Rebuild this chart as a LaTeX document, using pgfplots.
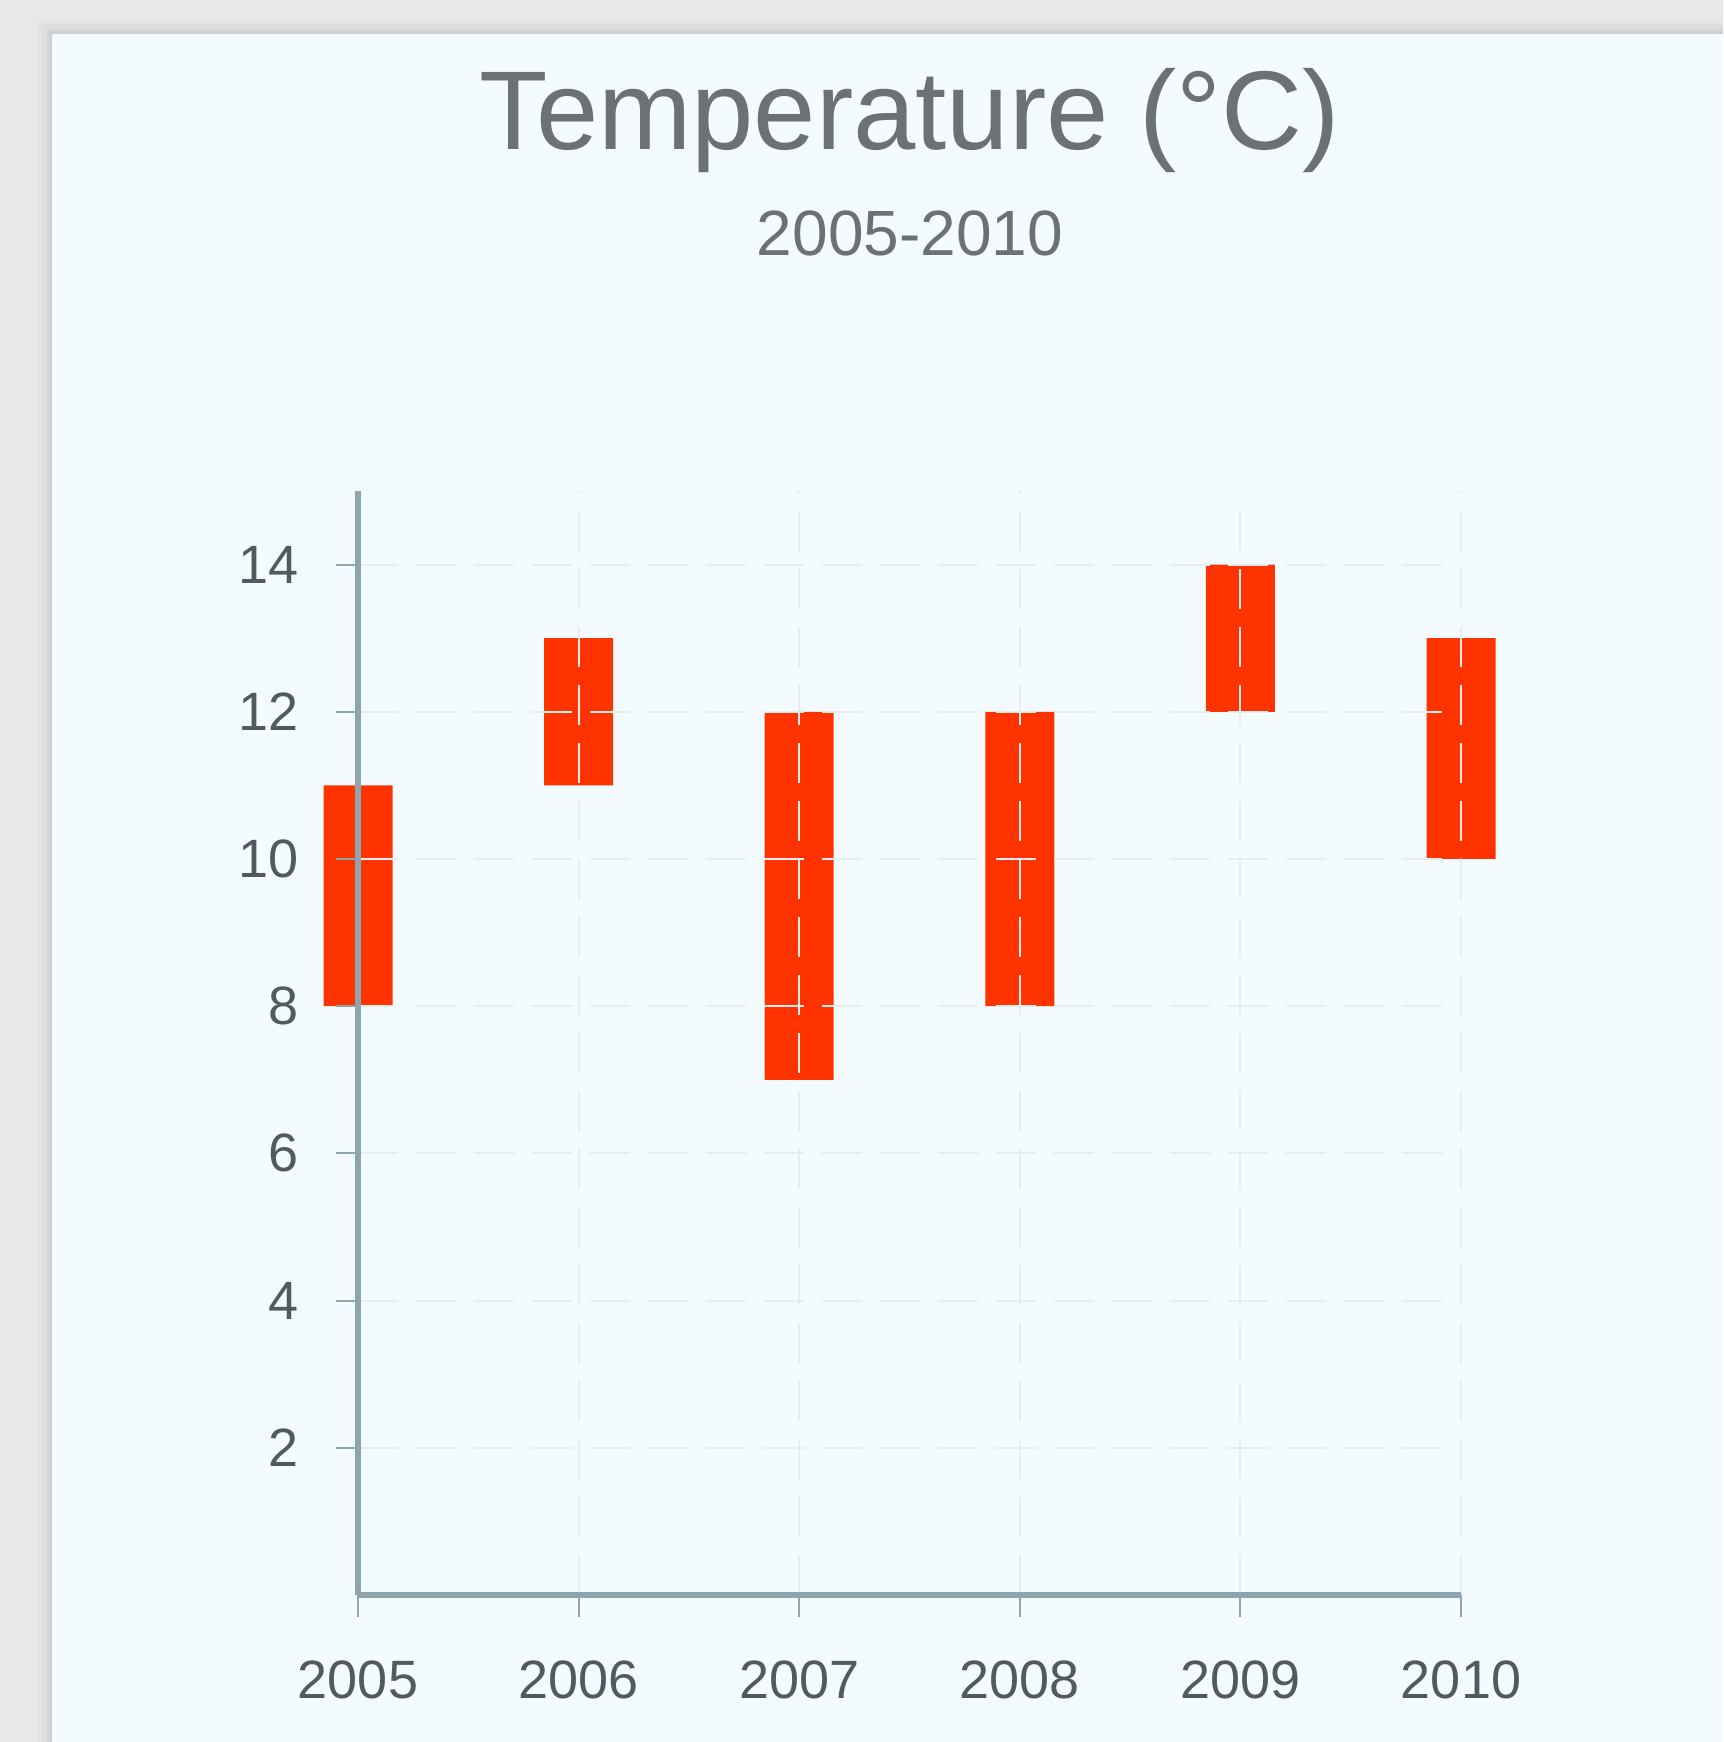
\documentclass[border=0pt]{standalone}
\usepackage{pgfplots}
\pgfplotsset{compat=1.18}
\usepackage{fontspec}
\setmainfont{Liberation Sans}
\definecolor{outerbg}{HTML}{E8E8E8}
\definecolor{card}{HTML}{F4FBFF}
\definecolor{barred}{HTML}{FF3300}
\definecolor{axiscol}{HTML}{90A4AE}
\definecolor{gridcol}{HTML}{E8ECEE}
\definecolor{titlec}{HTML}{6E7173}
\definecolor{tickc}{HTML}{505B61}
\begin{document}
\begin{tikzpicture}
\begin{scope}[x=0.25pt,y=0.25pt]
\useasboundingbox (0,0) rectangle (1723,1742);
\fill[outerbg] (0,0) rectangle (1723,1742);
\foreach \i/\o in {14/0.015,10/0.02,6/0.03,3/0.04}{
  \fill[black,opacity=\o] (52-\i,0) rectangle (1723,1708+\i);
}
\fill[card] (52,0) rectangle (1723,1708);
\node[anchor=base, text=titlec, font=\fontsize{28}{30}\selectfont, inner sep=0pt] at (910,1592) {Temperature (°C)};
\node[anchor=base, text=titlec, font=\fontsize{16}{18}\selectfont, inner sep=0pt] at (910,1486.5) {2005-2010};
\end{scope}
\begin{axis}[
  at={(89.5pt,36.75pt)}, anchor=south west,
  scale only axis, width=275.75pt, height=276pt,
  xmin=2005, xmax=2010, ymin=0, ymax=15,
  xtick={2005,2006,2007,2008,2009,2010},
  ytick={2,4,6,8,10,12,14},
  axis x line*=bottom, axis y line*=left,
  axis line style={axiscol, line width=1.4pt},
  tick style={axiscol, line width=0.5pt},
  major tick length=5.5pt, tick align=outside,
  grid=major,
  grid style={gridcol, line width=0.5pt, dash pattern=on 10pt off 4.5pt},
  axis on top,
  clip=false,
  ybar stacked, bar width=17.25pt,
  ticklabel style={font=\fontsize{13.5}{15}\selectfont, text=tickc},
  xticklabel style={yshift=-7.5pt},
  yticklabel style={xshift=-5.8pt},
  /pgf/number format/1000 sep={},
  /pgf/number format/assume math mode=true,
]
\addplot[draw=none, fill=none] coordinates {(2005,8) (2006,11) (2007,7) (2008,8) (2009,12) (2010,10)};
\addplot[draw=none, fill=barred] coordinates {(2005,3) (2006,2) (2007,5) (2008,4) (2009,2) (2010,3)};
\end{axis}
\end{tikzpicture}
\end{document}
